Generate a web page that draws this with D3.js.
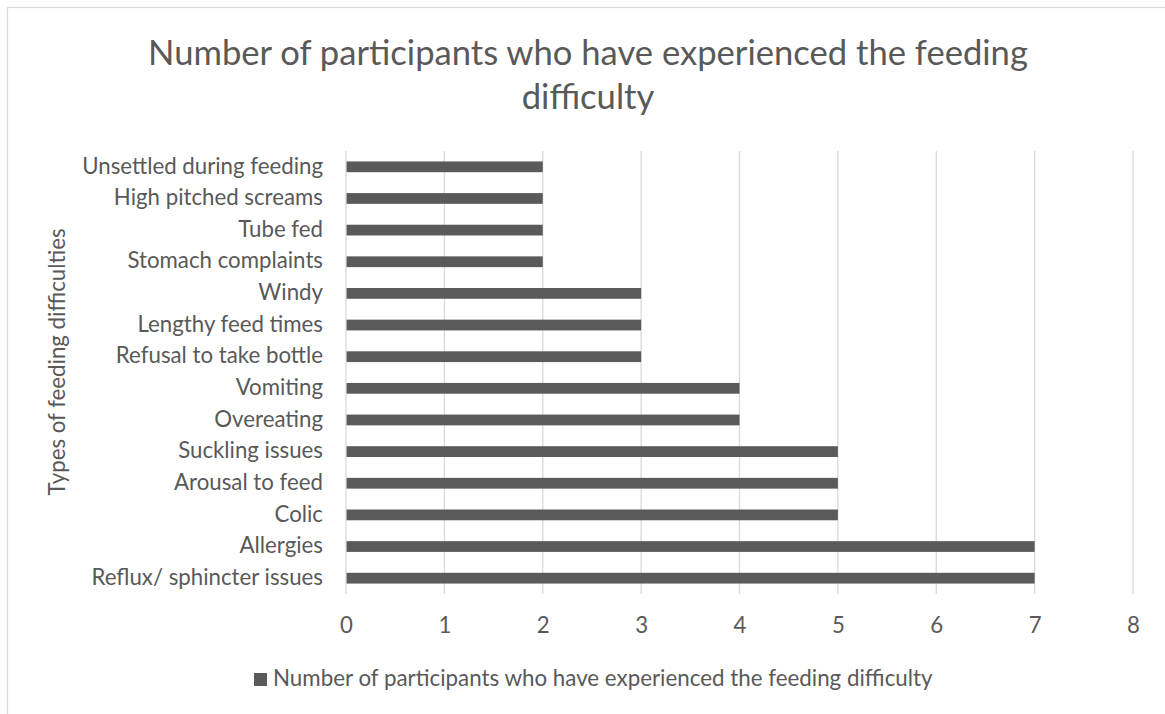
<!DOCTYPE html>
<html>
<head>
<meta charset="utf-8">
<script src="https://cdn.jsdelivr.net/npm/d3@7"></script>
<style>
  html, body { margin: 0; padding: 0; background: #fff; }
  svg { display: block; font-family: Lato, "Open Sans", sans-serif; }
</style>
</head>
<body>
<svg id="chart" width="1165" height="714"></svg>
<script>
const categories = [
  "Unsettled during feeding",
  "High pitched screams",
  "Tube fed",
  "Stomach complaints",
  "Windy",
  "Lengthy feed times",
  "Refusal to take bottle",
  "Vomiting",
  "Overeating",
  "Suckling issues",
  "Arousal to feed",
  "Colic",
  "Allergies",
  "Reflux/ sphincter issues"
];
const values = [2, 2, 2, 2, 3, 3, 3, 4, 4, 5, 5, 5, 7, 7];
const xTicks = [0, 1, 2, 3, 4, 5, 6, 7, 8];
const titleLines = ["Number of participants who have experienced the feeding", "difficulty"];
const yAxisTitle = "Types of feeding difficulties";
const seriesName = "Number of participants who have experienced the feeding difficulty";

const svg = d3.select("#chart");
const textColor = "#595959";
const barColor = "#5a5a5a";
const gridColor = "#d9d9d9";

// font size that makes a text reach a target width
function fitSize(text, targetWidth) {
  const t = svg.append("text").style("font-size", "100px").text(text);
  const w = t.node().getComputedTextLength();
  t.remove();
  return 100 * targetWidth / w;
}
const labelSize = fitSize(categories[0], 241);
const titleSize = fitSize(titleLines[0], 880);
const legendSize = fitSize(seriesName, 660);

// chart border
svg.append("rect").attr("x", 7.5).attr("y", 7.5).attr("width", 1170).attr("height", 740)
  .attr("fill", "none").attr("stroke", "#d9d9d9").attr("stroke-width", 1.2);

const plot = { left: 346, right: 1133, top: 151, bottom: 594 };
const x = d3.scaleLinear().domain([0, 8]).range([plot.left, plot.right]);
const y = d3.scaleBand().domain(categories).range([plot.top, plot.bottom]).paddingInner(0.66).paddingOuter(0.33);

// gridlines
svg.append("g").selectAll("line").data(xTicks.filter(d => d > 0)).join("line")
  .attr("x1", d => x(d)).attr("x2", d => x(d))
  .attr("y1", plot.top).attr("y2", plot.bottom)
  .attr("stroke", gridColor).attr("stroke-width", 1.3);

// bars
svg.append("g").selectAll("rect").data(categories).join("rect")
  .attr("x", x(0))
  .attr("y", d => y(d))
  .attr("width", (d, i) => x(values[i]) - x(0))
  .attr("height", y.bandwidth())
  .attr("fill", barColor);

// left axis line
svg.append("line").attr("x1", x(0)).attr("x2", x(0)).attr("y1", plot.top).attr("y2", plot.bottom)
  .attr("stroke", gridColor).attr("stroke-width", 1.3);

// x tick labels
const xAxis = d3.axisBottom(x).tickValues(xTicks).tickSize(0).tickPadding(0);
const gx = svg.append("g").attr("transform", `translate(0,${plot.bottom})`).call(xAxis);
gx.select(".domain").remove();
gx.selectAll("text").attr("y", 39).attr("dy", 0).attr("fill", textColor)
  .style("font-size", labelSize + "px").style("font-family", "Lato, sans-serif");

// y category labels
const yAxis = d3.axisLeft(y).tickSize(0).tickPadding(0);
const gy = svg.append("g").attr("transform", `translate(${plot.left - 23},0)`).call(yAxis);
gy.select(".domain").remove();
gy.selectAll("text").attr("fill", textColor).attr("dy", "0.3em")
  .style("font-size", labelSize + "px").style("font-family", "Lato, sans-serif");

// title
svg.append("g").selectAll("text").data(titleLines).join("text")
  .attr("x", 588).attr("y", (d, i) => 65 + i * 44)
  .attr("text-anchor", "middle").attr("fill", textColor)
  .style("font-size", titleSize + "px")
  .text(d => d);

// y axis title
svg.append("text")
  .attr("transform", `translate(65,362) rotate(-90)`)
  .attr("text-anchor", "middle").attr("fill", textColor)
  .style("font-size", labelSize + "px")
  .text(yAxisTitle);

// legend
const lg = svg.append("g");
lg.append("rect").attr("x", 254).attr("y", 673).attr("width", 13).attr("height", 13).attr("fill", barColor);
lg.append("text").attr("x", 273).attr("y", 686).attr("fill", textColor)
  .style("font-size", legendSize + "px").text(seriesName);
</script>
</body>
</html>
